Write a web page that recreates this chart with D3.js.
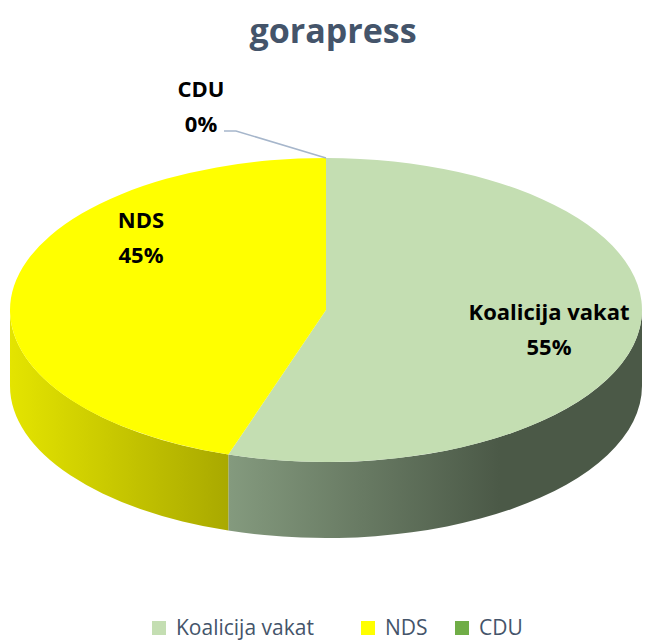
<!DOCTYPE html>
<html>
<head>
<meta charset="utf-8">
<script src="https://cdn.jsdelivr.net/npm/d3@7"></script>
<style>
  body { margin: 0; background: #fff; }
  svg { display: block; }
</style>
</head>
<body>
<div id="chart"></div>
<script>
// chart data
const parties = ["Koalicija vakat", "NDS", "CDU"];
const shares = [55, 45, 0];
const topColors = ["#c4deb2", "#ffff00", "#70ad47"];
const sideLight = ["#849a7e", "#e4e400", "#5e8a3c"];
const sideDark = ["#4b5947", "#a9a900", "#3d5a27"];

const width = 646, height = 640;
const cx = 326, cy = 310, rx = 316, ry = 152, depth = 76;
const font = "'Open Sans', sans-serif";

const svg = d3.select("#chart").append("svg")
    .attr("width", width)
    .attr("height", height);

// title
svg.append("text")
    .attr("x", 333)
    .attr("y", 43)
    .attr("text-anchor", "middle")
    .style("font-family", font)
    .style("font-weight", "bold")
    .style("font-size", "34px")
    .style("fill", "#44546a")
    .text("gorapress");

const pie = d3.pie().sort(null).value(d => d)(shares);

// angle measured clockwise from the top
const pt = (a, dy = 0) => [cx + rx * Math.sin(a), cy - ry * Math.cos(a) + dy];

const defs = svg.append("defs");

// side walls (front half only: PI/2 .. 3PI/2)
const sides = pie.map((d, i) => {
    const a0 = Math.max(d.startAngle, Math.PI / 2);
    const a1 = Math.min(d.endAngle, 3 * Math.PI / 2);
    return { i, a0, a1 };
}).filter(s => s.a1 > s.a0);

sides.forEach(s => {
    const p0 = pt(s.a0), p1 = pt(s.a1);
    const xs = [p0[0], p1[0]];
    const g = defs.append("linearGradient")
        .attr("id", "side" + s.i)
        .attr("gradientUnits", "userSpaceOnUse")
        .attr("x1", d3.max(xs) > cx + rx * 0.9 ? p1[0] : d3.min(xs))
        .attr("x2", d3.max(xs) > cx + rx * 0.9 ? 500 : d3.max(xs))
        .attr("y1", 0).attr("y2", 0);
    g.append("stop").attr("offset", "0%").attr("stop-color", sideLight[s.i]);
    g.append("stop").attr("offset", "100%").attr("stop-color", sideDark[s.i]);
});

svg.selectAll("path.side")
    .data(sides)
    .join("path")
    .attr("class", "side")
    .attr("fill", s => `url(#side${s.i})`)
    .attr("d", s => {
        const p0 = pt(s.a0), p1 = pt(s.a1);
        const q0 = pt(s.a0, depth), q1 = pt(s.a1, depth);
        const large = s.a1 - s.a0 > Math.PI ? 1 : 0;
        return `M${p0}A${rx},${ry} 0 ${large} 1 ${p1}L${q1}A${rx},${ry} 0 ${large} 0 ${q0}Z`;
    });

// top face
svg.selectAll("path.top")
    .data(pie.filter(d => d.endAngle > d.startAngle))
    .join("path")
    .attr("class", "top")
    .attr("fill", d => topColors[d.index])
    .attr("d", d => {
        const p0 = pt(d.startAngle), p1 = pt(d.endAngle);
        const large = d.endAngle - d.startAngle > Math.PI ? 1 : 0;
        return `M${cx},${cy}L${p0}A${rx},${ry} 0 ${large} 1 ${p1}Z`;
    });

// CDU leader line
const cduTip = pt(pie[2].startAngle);
svg.append("path")
    .attr("d", `M224,131L236,131L${cduTip[0]},${cduTip[1]}`)
    .attr("fill", "none")
    .attr("stroke", "#a6b6cb")
    .attr("stroke-width", 1.5);

// data labels
const labelPos = [[549, 320], [141, 228], [201, 97]];
const labels = svg.selectAll("g.label")
    .data(pie)
    .join("g")
    .attr("class", "label")
    .attr("transform", d => `translate(${labelPos[d.index]})`)
    .style("font-family", font)
    .style("font-weight", "bold")
    .style("font-size", "22px")
    .style("fill", "#000")
    .attr("text-anchor", "middle");
labels.append("text").text(d => parties[d.index]);
labels.append("text").attr("y", 35).text(d => d.data + "%");

// legend
const legendX = [152, 361, 455];
const legend = svg.selectAll("g.legend")
    .data(parties)
    .join("g")
    .attr("class", "legend")
    .attr("transform", (d, i) => `translate(${legendX[i]},621)`);
legend.append("rect")
    .attr("width", 14).attr("height", 14)
    .attr("fill", (d, i) => topColors[i]);
legend.append("text")
    .attr("x", 24).attr("y", 14)
    .style("font-family", font)
    .style("font-size", "21px")
    .style("fill", "#44546a")
    .text(d => d);
</script>
</body>
</html>
